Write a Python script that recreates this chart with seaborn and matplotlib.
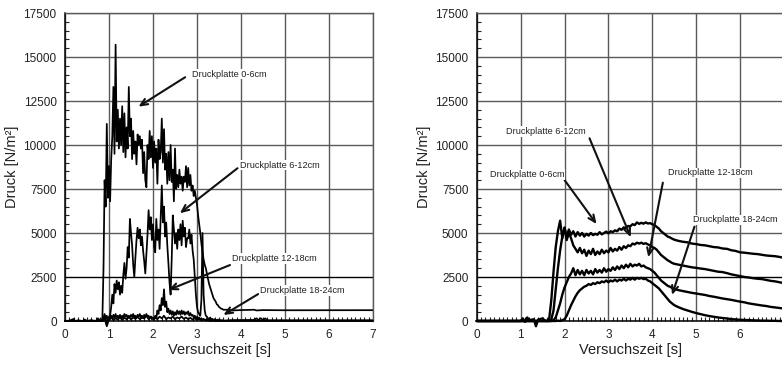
import numpy as np
import pandas as pd
import matplotlib
matplotlib.use("Agg")
import matplotlib.pyplot as plt
import seaborn as sns
from matplotlib.ticker import MultipleLocator

# ---------------- data: left panel ----------------
pre_t = [0.0, 0.1, 0.2, 0.22, 0.3, 0.4, 0.45, 0.5, 0.6, 0.7, 0.75, 0.8, 0.83]
pre_v = [0, 20, 120, 0, 40, 0, 80, 10, 50, 0, 150, 20, 0]

# active window 0.85 .. 3.60 s, 0.025 s sampling
L_0_6 = [200, 3000, 8000, 6500, 11200, 7000, 8800, 6800, 9200, 10500,
         13300, 9500, 15700, 10200, 12000, 9800, 11500, 10000, 12200, 9600,
         11800, 9300, 11000, 9800, 13300, 10500, 11500, 9200, 10800, 9500,
         10200, 8900, 10600, 10000, 10500, 9800, 10300, 8400, 9600, 8000,
         7600, 10000, 9200, 10800, 9300, 10500, 8700, 10200, 9000, 9800,
         7800, 10300, 9200, 9600, 11500, 9000, 10900, 8600, 9500, 7800,
         9600, 8000, 10000, 7900, 8600, 6800, 9800, 7500, 8300, 7600,
         8600, 7800, 8200, 7400, 8200, 7900, 8800, 7600, 8700, 7700,
         8300, 7400, 7700, 7100, 7400, 7000, 6600, 6000, 5500, 5000,
         4400, 3900, 3500, 3200, 3000, 2700, 2400, 2100, 1900, 1700,
         1500, 1300, 1200, 1100, 950, 900, 800, 750, 700, 680, 640]
L_6_12 = [0, 100, 300, 0, -200, 100, 200, 300, 800, 1500,
          1000, 2100, 1600, 2300, 1800, 2200, 1500, 2000, 1600, 2600,
          3300, 2400, 3000, 4200, 3600, 5800, 5000, 4300, 3200, 2500,
          3600, 4600, 5300, 4700, 5200, 4300, 4800, 4000, 3400, 2700,
          3800, 4900, 6300, 5200, 5900, 4600, 5500, 4200, 3900, 5800,
          4600, 5200, 4100, 5900, 7700, 5600, 6500, 4800, 5600, 4300,
          3300, 2200, 1500, 3500, 6000, 5200, 4400, 5000, 4100, 5200,
          4600, 5500, 4300, 5700, 4800, 5300, 4200, 4700, 4700, 5200,
          4400, 4900, 4000, 3500, 2500, 1500, 800, 500, 400, 300,
          1200, 5000, 1500, 600, 300, 250, 150, 100, 200, 80,
          120, 50, 100, 60, 40, 80, 30, 60, 20, 40, 20]
L_12_18 = [0, 200, 400, 100, 300, 0, 250, 100, 300, 150,
           350, 200, 400, 150, 300, 200, 350, 150, 300, 200,
           400, 250, 350, 150, 300, 200, 350, 250, 400, 200,
           300, 150, 350, 250, 400, 200, 300, 150, 350, 200,
           400, 250, 300, 150, 250, 100, 200, 50, 300, 150,
           600, 400, 900, 600, 1300, 900, 1800, 800, 1100, 500,
           700, 400, 600, 350, 550, 300, 500, 350, 600, 400,
           550, 350, 600, 400, 550, 350, 500, 400, 550, 300,
           450, 300, 350, 200, 300, 150, 250, 100, 200, 80,
           150, 50, 120, 40, 80, 20, 60, 0, 50, 0,
           40, 0, 30, 0, 20, 0, 30, 0, 20, 0, 10]
# 0.85 .. 3.60 s, 0.05 s sampling
L_18_24 = [0, 150, -300, 100, 200, 50, 150, 80, 200, 60,
           180, 100, 220, 90, 200, 120, 250, 100, 200, 150,
           300, 100, 250, 150, 200, 100, 250, 150, 300, 100,
           200, 150, 250, 100, 200, 150, 250, 120, 200, 100,
           180, 80, 150, 60, 120, 40, 100, 30, 80, 20,
           60, 10, 40, 0, 30, 10]
post_t_A = [3.7, 3.8, 4.0, 4.3, 4.35, 4.5, 5.0, 6.0, 7.0]
post_v_A = [640, 600, 620, 640, 600, 620, 610, 615, 615]
post_t_D = [3.8, 4.3, 4.35, 4.4, 4.45, 4.5, 4.55, 4.6, 5.0, 6.0, 7.0]
post_v_D = [50, 60, 150, 50, 160, 50, 150, 40, 40, 40, 40]

# ---------------- data: right panel ----------------
R_pre_t = [0.0, 1.0, 1.05, 1.1, 1.15, 1.2, 1.3, 1.35, 1.4, 1.5, 1.55]
R_pre_v = [0, 0, 150, -50, 200, 50, 100, -300, 80, 150, 30]
# 1.60 .. 4.50 s, 0.05 s sampling
R_0_6 = [0, 100, 1200, 2800, 4200, 5100, 5700, 4700, 5300, 4800,
         5200, 4900, 5100, 4800, 5050, 4850, 5000, 4800, 4950, 4850,
         5000, 4880, 4950, 4900, 5050, 4920, 5000, 5080, 4980, 5100,
         5050, 5150, 5100, 5250, 5180, 5320, 5250, 5400, 5380, 5500,
         5450, 5600, 5520, 5580, 5530, 5600, 5540, 5560, 5500, 5450,
         5350, 5250, 5100, 5000, 4900, 4800, 4750, 4680, 4620]
R_6_12 = [0, 0, 100, 600, 1800, 3000, 4000, 4800, 5300, 4600,
          5000, 4700, 4300, 4100, 3900, 4150, 3850, 4050, 3700, 4000,
          3800, 4100, 3750, 3950, 3800, 4050, 3850, 4000, 3900, 4150,
          3950, 4100, 4000, 4200, 4050, 4250, 4150, 4300, 4250, 4400,
          4350, 4450, 4400, 4450, 4380, 4420, 4350, 4300, 4200, 4150,
          4050, 3900, 3750, 3650, 3550, 3450, 3380, 3300, 3250]
R_12_18 = [0, 0, 0, 50, 200, 600, 1000, 1500, 1900, 2200,
           2500, 2700, 3000, 2600, 2900, 2650, 2850, 2600, 2900, 2700,
           2850, 2650, 2950, 2750, 2900, 2750, 3000, 2800, 2950, 2850,
           3050, 2900, 3100, 2950, 3150, 3000, 3200, 3050, 3250, 3100,
           3200, 3150, 3250, 3100, 3150, 3050, 3000, 2950, 2850, 2750,
           2600, 2450, 2300, 2200, 2100, 2000, 1950, 1880, 1820]
R_18_24 = [0, 0, 0, 0, 0, 20, 0, 50, 100, 300,
           600, 900, 1150, 1400, 1600, 1750, 1850, 1950, 2000, 2100,
           2050, 2150, 2100, 2200, 2150, 2250, 2200, 2300, 2200, 2300,
           2250, 2350, 2250, 2350, 2300, 2400, 2300, 2400, 2350, 2450,
           2350, 2450, 2400, 2450, 2380, 2400, 2300, 2250, 2150, 2050,
           1950, 1850, 1700, 1550, 1400, 1250, 1100, 1000, 900]
# 4.6 .. 7.0 s, 0.1 s sampling
R_0_6_tail = [4550, 4500, 4470, 4400, 4370, 4320, 4300, 4250, 4200, 4180,
              4120, 4100, 4020, 3980, 3900, 3880, 3850, 3820, 3800, 3760,
              3720, 3700, 3680, 3640, 3580]
R_6_12_tail = [3200, 3150, 3100, 3050, 3020, 2980, 2950, 2900, 2850, 2800,
               2780, 2720, 2650, 2600, 2550, 2500, 2470, 2430, 2400, 2380,
               2330, 2280, 2250, 2200, 2150]
R_12_18_tail = [1750, 1700, 1650, 1600, 1560, 1520, 1480, 1420, 1380, 1330,
                1280, 1240, 1200, 1150, 1100, 1060, 1000, 960, 920, 880,
                850, 800, 770, 740, 700]
R_18_24_tail = [780, 680, 600, 520, 450, 390, 330, 280, 240, 200,
                170, 140, 110, 90, 70, 60, 50, 40, 30, 20,
                20, 10, 10, 0, 0]

x_ticks = [0, 1, 2, 3, 4, 5, 6, 7]
y_ticks = [0, 2500, 5000, 7500, 10000, 12500, 15000, 17500]

left_notes = [  # text, text pos, arrow tail, arrow head
    ("Druckplatte 0-6cm", (2.89, 14030), (2.73, 13850), (1.67, 12180)),
    ("Druckplatte 6-12cm", (3.98, 8860), (3.92, 8680), (2.61, 6120)),
    ("Druckplatte 12-18cm", (3.80, 3560), (3.75, 3180), (2.35, 1760)),
    ("Druckplatte 18-24cm", (4.43, 1720), (4.39, 1530), (3.60, 340)),
]
right_notes = [
    ("Druckplatte 6-12cm", (0.67, 10760), (2.57, 10380), (3.51, 4760)),
    ("Druckplatte 0-6cm", (0.30, 8310), (2.00, 8010), (2.73, 5510)),
    ("Druckplatte 12-18cm", (4.35, 8410), (4.24, 7860), (3.91, 3620)),
    ("Druckplatte 18-24cm", (4.92, 5740), (4.96, 5360), (4.45, 1480)),
]

# ---------------- assemble ----------------
tA = np.round(0.85 + 0.025 * np.arange(len(L_0_6)), 3)
tD = np.round(0.85 + 0.05 * np.arange(len(L_18_24)), 3)
tR = np.round(1.60 + 0.05 * np.arange(len(R_0_6)), 3)
tR_tail = np.round(4.60 + 0.1 * np.arange(len(R_0_6_tail)), 3)

left_series = [
    (np.r_[pre_t, tA, post_t_A], np.r_[pre_v, L_0_6, post_v_A]),
    (np.r_[0.0, tA, 7.0], np.r_[0, L_6_12, 20]),
    (np.r_[0.0, tA, 7.0], np.r_[0, L_12_18, 0]),
    (np.r_[0.0, tD, post_t_D], np.r_[0, L_18_24, post_v_D]),
]
right_series = [
    (np.r_[R_pre_t, tR, tR_tail], np.r_[R_pre_v, R_0_6, R_0_6_tail]),
    (np.r_[0.0, tR, tR_tail], np.r_[0, R_6_12, R_6_12_tail]),
    (np.r_[0.0, tR, tR_tail], np.r_[0, R_12_18, R_12_18_tail]),
    (np.r_[0.0, tR, tR_tail], np.r_[0, R_18_24, R_18_24_tail]),
]

sns.set_style("white")
plt.rcParams["font.family"] = ["Liberation Sans", "DejaVu Sans"]

fig = plt.figure(figsize=(7.82, 3.66), dpi=100)
axL = fig.add_axes([65 / 782, 45 / 366, 308 / 782, 308 / 366])
axR = fig.add_axes([476.7 / 782, 45 / 366, 307.3 / 782, 308 / 366])

for ax, series, notes, lw in [(axL, left_series, left_notes, 1.25),
                              (axR, right_series, right_notes, 1.7)]:
    for t, v in series:
        df = pd.DataFrame({"t": t, "p": v})
        sns.lineplot(data=df, x="t", y="p", ax=ax, color="black", lw=lw,
                     estimator=None, sort=False, clip_on=False)
    ax.set_xlim(0, 7)
    ax.set_ylim(0, 17500)
    ax.set_xticks(x_ticks)
    ax.set_yticks(y_ticks)
    ax.xaxis.set_minor_locator(MultipleLocator(0.1))
    ax.yaxis.set_minor_locator(MultipleLocator(500))
    ax.tick_params(which="major", direction="out", length=4, width=1,
                   labelsize=8.5, colors="#222222", pad=2)
    ax.tick_params(which="minor", direction="in", length=3, width=0.8,
                   color="#222222", left=True, bottom=True)
    ax.grid(True, which="major", color="#5a5a5a", lw=1.0)
    for gl, yv in zip(ax.get_ygridlines(), y_ticks):
        if yv == 2500:
            gl.set_color("black")
    ax.set_axisbelow(True)
    for s in ["left", "bottom"]:
        ax.spines[s].set_color("black")
        ax.spines[s].set_linewidth(1.1)
    for s in ["top", "right"]:
        ax.spines[s].set_color("#5a5a5a")
        ax.spines[s].set_linewidth(1.0)
    ax.set_xlabel("Versuchszeit [s]", fontsize=10.5, color="#222222", labelpad=1)
    ax.set_ylabel("Druck [N/m²]", fontsize=10.5, color="#222222", labelpad=3)
    for txt, tpos, a0, a1 in notes:
        ax.text(tpos[0], tpos[1], txt, fontsize=6.6, ha="left", va="center",
                color="#222222", zorder=5,
                bbox=dict(boxstyle="square,pad=0.1", fc="white", ec="none"))
        ax.annotate("", xy=a1, xytext=a0,
                    arrowprops=dict(arrowstyle="->,head_length=0.5,head_width=0.22",
                                    color="#111111", lw=1.5, shrinkA=0, shrinkB=0))

axR.set_xticklabels(["0", "1", "2", "3", "4", "5", "6", ""])

fig.savefig("out.png", dpi=100)
